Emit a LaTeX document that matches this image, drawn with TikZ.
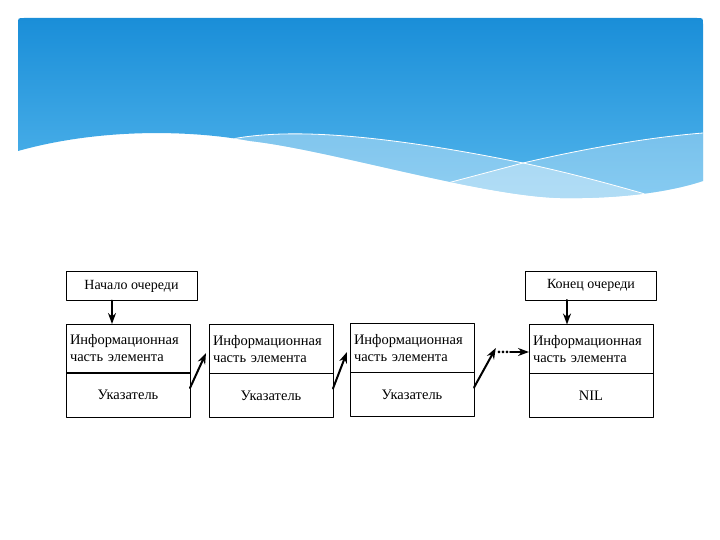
\documentclass[tikz,border=0pt]{standalone}
\usepackage{fontspec}
\setmainfont{Liberation Serif}
\usetikzlibrary{arrows.meta,positioning}

\definecolor{skytop}{RGB}{20,138,214}
\definecolor{skybot}{RGB}{84,182,236}

\begin{document}
\begin{tikzpicture}[line cap=round,line join=round,>={Stealth[length=11pt,width=8pt]},x=1pt,y=-1pt,
        qbox/.style={draw,line width=0.9pt,minimum width=131pt,minimum height=29pt,inner sep=0pt,outer sep=0pt,font=\fontsize{14}{16}\selectfont},
        infopart/.style={draw,line width=0.9pt,minimum width=124pt,minimum height=49pt,text width=116pt,align=left,inner sep=4pt,outer sep=0pt,font=\fontsize{14.5}{17}\selectfont},
        linkpart/.style={draw,line width=0.9pt,minimum width=124pt,minimum height=44pt,inner sep=0pt,outer sep=0pt,font=\fontsize{14.5}{17}\selectfont},
        link/.style={->,line width=2pt}]
        \useasboundingbox (0,0) rectangle (720,540);
        % banner
        \begin{scope}
        \clip (18,151) -- (18,24) .. controls (18,18) .. (24,18) -- (697,18) .. controls (703,18) .. (703,24) -- (703,181)
            .. controls (670,192) and (620,199) .. (560,198) .. controls (480,196) and (330,150) .. (250,141)
            .. controls (190,130) and (100,128) .. (18,151) -- cycle;
        \shade[top color=skytop,bottom color=skybot] (0,0) rectangle (720,200);
        \fill[white,opacity=0.35] (232,139) .. controls (290,128) and (380,134) .. (523,163) .. controls (570,173) and (610,184) .. (645,194) -- (645,260) -- (232,260) -- cycle;
        \fill[white,opacity=0.3] (440,185) -- (523,163) .. controls (570,152) and (640,138) .. (703,133) -- (703,260) -- (440,260) -- cycle;
        \draw[white,line width=0.8pt] (232,139) .. controls (290,128) and (380,134) .. (523,163) .. controls (570,173) and (610,184) .. (645,194);
        \draw[white,line width=0.8pt] (440,185) -- (523,163) .. controls (570,152) and (640,138) .. (703,133);
        \end{scope}
        % queue
        \node[qbox] (head) at (131.5,286) {Начало очереди};
        \node[qbox] (tail) at (591,285.5) {Конец очереди};
        \node[infopart] (i1) at (128,348.5) {Информационная\\часть элемента};
        \node[linkpart,below=0pt of i1] (p1) {Указатель};
        \node[infopart] (i2) at (271,349) {Информационная\\часть элемента};
        \node[linkpart,below=0pt of i2] (p2) {Указатель};
        \node[infopart] (i3) at (412,348) {Информационная\\часть элемента};
        \node[linkpart,below=0pt of i3] (p3) {Указатель};
        \node[infopart] (i4) at (591,349) {Информационная\\часть элемента};
        \node[linkpart,below=0pt of i4] (p4) {NIL};
        \foreach \n in {1,...,4}
            \draw[line width=1.8pt,line cap=butt] (i\n.south west) -- (i\n.south east);
        \node[inner sep=1pt,font=\fontsize{16}{16}\selectfont\bfseries] (gap) at (503,352) {...};
        \draw[link] ([xshift=-19.5pt]head.south) -- ([xshift=-19.5pt]head.south |- i1.north);
        \draw[link] ([xshift=-24pt]tail.south) -- ([xshift=-24pt]tail.south |- i4.north);
        \draw[link] ([yshift=7pt]p1.east) -- ([xshift=-3pt,yshift=-4pt]i2.west);
        \draw[link] ([yshift=7pt]p2.east) -- ([xshift=-3pt,yshift=-4pt]i3.west);
        \draw[link] ([yshift=7pt]p3.east) -- ([yshift=4pt]gap.west);
        \draw[link] (gap.east) -- (gap.east -| i4.west);
    \end{tikzpicture}
\end{document}
